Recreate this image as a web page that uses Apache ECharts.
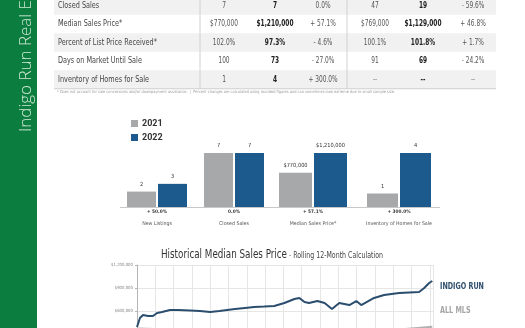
<!DOCTYPE html>
<html><head><meta charset="utf-8">
<script src="https://cdn.jsdelivr.net/npm/echarts@6/dist/echarts.min.js"></script>
<style>html,body{margin:0;padding:0;background:#fff}#c{width:525px;height:328px}</style>
</head><body><div id="c"></div>
<script>
// ---------- data ----------
const sidebarText = 'Indigo Run Real Estate';
const tableRows = ['Closed Sales','Median Sales Price*','Percent of List Price Received*','Days on Market Until Sale','Inventory of Homes for Sale'];
const month2021 = ['7','$770,000','102.0%','100','1'];
const month2022 = ['7','$1,210,000','97.3%','73','4'];
const monthChange = ['0.0%','+ 57.1%','- 4.6%','- 27.0%','+ 300.0%'];
const ytd2021 = ['47','$769,000','100.1%','91','--'];
const ytd2022 = ['19','$1,129,000','101.8%','69','--'];
const ytdChange = ['- 59.6%','+ 46.8%','+ 1.7%','- 24.2%','--'];
const footnote = '* Does not account for sale concessions and/or downpayment assistance.  |  Percent changes are calculated using rounded figures and can sometimes look extreme due to small sample size.';

const years = ['2021','2022'];
const barCategories = ['New Listings','Closed Sales','Median Sales Price*','Inventory of Homes for Sale'];
const bar2021 = [2, 7, 770000, 1];
const bar2022 = [3, 7, 1210000, 4];
const barLabels2021 = ['2','7','$770,000','1'];
const barLabels2022 = ['3','7','$1,210,000','4'];
const barChange = ['+ 50.0%','0.0%','+ 57.1%','+ 300.0%'];
const barScaleMax = [7, 7, 1210000, 4];

const lineTitleMain = 'Historical Median Sales Price';
const lineTitleSub = ' - Rolling 12-Month Calculation';
const lineSeriesNames = ['INDIGO RUN','ALL MLS'];
const yTicks = [0, 300000, 600000, 900000, 1200000];
// [decimal year, rolling 12-month median price]
const indigoRun = [
  [2006.00,391000],[2006.16,509000],[2006.33,548000],[2006.60,535000],[2006.87,535000],
  [2007.10,574000],[2007.37,587000],[2007.80,613000],[2008.24,613000],[2008.90,607000],
  [2009.44,600000],[2010.00,587000],[2010.50,600000],[2011.35,626000],[2011.90,640000],
  [2012.40,652000],[2012.95,658000],[2013.50,665000],[2014.05,704000],[2014.60,757000],
  [2014.87,770000],[2015.15,717000],[2015.40,704000],[2015.85,730000],[2016.25,704000],
  [2016.65,626000],[2017.05,704000],[2017.60,678000],[2017.98,730000],[2018.25,678000],
  [2018.95,770000],[2019.50,809000],[2020.32,835000],[2021.41,848000],[2021.69,900000],
  [2021.96,965000],[2022.13,991000]
];
const allMls = [
  [2006.0,372000],[2007.0,365000],[2008.0,350000],[2009.0,312000],[2010.0,292000],
  [2011.0,278000],[2012.0,272000],[2013.0,282000],[2014.0,295000],[2015.0,305000],
  [2016.0,315000],[2017.0,326000],[2018.0,335000],[2019.0,342000],[2020.0,352000],
  [2021.0,372000],[2022.13,393000]
];

// ---------- layout / style ----------
const GREEN = '#0b7d3e', GRAY = '#a7a8aa', BLUE = '#1c5a8d', LINEBLUE = '#2b4d6e';
const NARROW = "'Liberation Sans Narrow','DejaVu Sans Condensed','Roboto',sans-serif";
const mctx = document.createElement('canvas').getContext('2d');
function measure(text, font) { mctx.font = font; return mctx.measureText(text).width; }
// horizontal squeeze factor so a reference string gets its measured width
function fit(text, font, target) { return target / measure(text, font); }

const tblLeft = 54, tblRight = 496, rowTop0 = 5.5, rowStep = 18.5;
const colX = [224, 275, 323, 375, 423, 473];
const groupLeft = [127, 204, 279, 367], barW = [29, 29, 33, 31], barGapPx = 2;

const TF = '8px ' + NARROW, TFB = 'bold 8px ' + NARROW;
const sLbl = fit('Percent of List Price Received*', TF, 99);
const sBold = fit('$1,210,000', TFB, 37);
const sReg = fit('$770,000', TF, 28);

const graphics = [];
graphics.push({type:'rect', shape:{x:0,y:0,width:37,height:328}, style:{fill:GREEN}, z:0});
const SBF = "300 16px 'Open Sans', sans-serif";
graphics.push({type:'text', x:26, y:132, rotation:Math.PI/2, scaleX:fit('Indigo', SBF, 47),
  style:{text:sidebarText, fill:'#cfe8d6', font:SBF, textAlign:'left', textVerticalAlign:'middle'}});

tableRows.forEach((name, i) => {
  const cy = rowTop0 + rowStep * i;
  if (i % 2 === 0) graphics.push({type:'rect', shape:{x:tblLeft, y:cy - rowStep/2, width:tblRight - tblLeft, height:rowStep}, style:{fill:'#f1f1f1'}, z:0});
  const vals = [month2021[i], month2022[i], monthChange[i], ytd2021[i], ytd2022[i], ytdChange[i]];
  graphics.push({type:'text', x:58, y:cy, scaleX:sLbl, style:{text:name, fill:'#444', font:TF, textAlign:'left', textVerticalAlign:'middle'}, z:2});
  vals.forEach((v, j) => {
    const bold = (j === 1 || j === 4);
    graphics.push({type:'text', x:colX[j], y:cy, scaleX: bold ? sBold : sReg, style:{text:v, fill: bold ? '#222' : '#555', font: bold ? TFB : TF, textAlign:'center', textVerticalAlign:'middle'}, z:2});
  });
});
const tblBottom = rowTop0 + rowStep * (tableRows.length - 0.5);
graphics.push({type:'line', shape:{x1:tblLeft, y1:tblBottom, x2:tblRight, y2:tblBottom}, style:{stroke:'#cfcfcf', lineWidth:1}, z:1});
[200, 347].forEach(x => graphics.push({type:'line', shape:{x1:x, y1:0, x2:x, y2:tblBottom}, style:{stroke:'#d0d0d0', lineWidth:1}, z:1}));
const FNF = '4px ' + NARROW;
graphics.push({type:'text', x:57, y:tblBottom + 3.5, scaleX:fit(footnote, FNF, 338), style:{text:footnote, fill:'#9a9a9a', font:FNF, textAlign:'left', textVerticalAlign:'middle'}});
// bar chart baseline
graphics.push({type:'line', shape:{x1:120, y1:207.5, x2:440, y2:207.5}, style:{stroke:'#c8c8c8', lineWidth:1}, z:1});

// line chart title
const TMF = '12.5px ' + NARROW, TSF = '8.5px ' + NARROW;
const sTM = fit(lineTitleMain, TMF, 126), sTS = fit(lineTitleSub, TSF, 96);
graphics.push({type:'text', x:161, y:261, scaleX:sTM, style:{text:lineTitleMain, fill:'#333', font:TMF, textAlign:'left', textVerticalAlign:'bottom'}});
graphics.push({type:'text', x:287, y:260.5, scaleX:sTS, style:{text:lineTitleSub, fill:'#444', font:TSF, textAlign:'left', textVerticalAlign:'bottom'}});
// line chart legend texts
const LGF = 'bold 9.5px ' + NARROW;
const sLG = fit(lineSeriesNames[0], LGF, 44);
graphics.push({type:'text', x:440, y:287, scaleX:sLG, style:{text:lineSeriesNames[0], fill:'#2f4f6c', font:LGF, textAlign:'left', textVerticalAlign:'middle'}});
graphics.push({type:'text', x:440, y:311, scaleX:sLG, style:{text:lineSeriesNames[1], fill:'#a5a5a5', font:LGF, textAlign:'left', textVerticalAlign:'middle'}});

// font sizes for axis texts sized to reference widths
const catFont = 6 * 66 / measure('Inventory of Homes for Sale', '6px ' + NARROW);
const pctFont = 6 * 23 / measure('+ 300.0%', 'bold 6px ' + NARROW);
const valFont = 6 * 29 / measure('$1,210,000', '6px ' + NARROW);
const yLabFont = 5 * 22 / measure('$1,200,000', '5px ' + NARROW);

const grids = [], xAxes = [], yAxes = [], series = [];
barCategories.forEach((cat, i) => {
  const w = barW[i] * 2 + barGapPx;
  grids.push({left:groupLeft[i], top:153, width:w, height:54, outerBoundsMode:'none'});
  xAxes.push({gridIndex:i, type:'category', data:[cat], axisLine:{show:false}, axisTick:{show:false},
    axisLabel:{margin:0, interval:0, formatter:() => '{p|' + barChange[i] + '}\n{n|' + cat + '}',
      rich:{p:{fontSize:pctFont, fontWeight:'bold', color:'#333', fontFamily:NARROW, lineHeight:9, height:9},
            n:{fontSize:catFont, color:'#555', fontFamily:NARROW, lineHeight:15, height:15}}}});
  yAxes.push({gridIndex:i, type:'value', min:0, max:barScaleMax[i], show:false, splitLine:{show:false}});
  const lbl = arr => ({show:true, position:'top', distance:4, formatter:() => arr[i], fontSize:valFont, color:'#333', fontFamily:NARROW});
  series.push({name:years[0], type:'bar', xAxisIndex:i, yAxisIndex:i, data:[bar2021[i]], barWidth:barW[i], barGap:(barGapPx / barW[i] * 100) + '%', itemStyle:{color:GRAY}, label:lbl(barLabels2021), silent:true});
  series.push({name:years[1], type:'bar', xAxisIndex:i, yAxisIndex:i, data:[bar2022[i]], barWidth:barW[i], barGap:(barGapPx / barW[i] * 100) + '%', itemStyle:{color:BLUE}, label:lbl(barLabels2022), silent:true});
});

// line chart grid (extends below the visible page)
grids.push({left:137, top:265, width:296, height:92, outerBoundsMode:'none', containLabel:false});
xAxes.push({gridIndex:4, type:'value', min:2006, max:2022.17, interval:1, axisLine:{show:false}, axisTick:{show:false}, axisLabel:{show:false},
  splitLine:{show:true, lineStyle:{color:'#e6e6e6', width:1}}});
yAxes.push({gridIndex:4, type:'value', min:yTicks[0], max:yTicks[yTicks.length-1], interval:yTicks[1]-yTicks[0],
  axisLine:{show:true, lineStyle:{color:'#b5b5b5'}}, axisTick:{show:true, length:2, lineStyle:{color:'#b5b5b5'}},
  axisLabel:{fontSize:yLabFont, color:'#888', margin:4, fontFamily:NARROW, formatter:v => '$' + v.toLocaleString('en-US')},
  splitLine:{show:true, lineStyle:{color:'#e6e6e6', width:1}}});
series.push({name:lineSeriesNames[1], type:'line', xAxisIndex:4, yAxisIndex:4, data:allMls, showSymbol:false, lineStyle:{color:'#b0b0b0', width:2}});
series.push({name:lineSeriesNames[0], type:'line', xAxisIndex:4, yAxisIndex:4, data:indigoRun, showSymbol:false, lineStyle:{color:LINEBLUE, width:2}});

const chart = echarts.init(document.getElementById('c'), null, {renderer:'canvas'});
chart.setOption({
  animation:false,
  backgroundColor:'#fff',
  legend:{data:years, orient:'vertical', left:126, top:114, itemWidth:7, itemHeight:7, itemGap:5, icon:'rect',
    textStyle:{fontSize:9, fontWeight:'bold', color:'#333', fontFamily:'Roboto', padding:[0,0,0,-1]}},
  grid:grids, xAxis:xAxes, yAxis:yAxes, series:series,
  graphic:graphics
});
</script></body></html>
